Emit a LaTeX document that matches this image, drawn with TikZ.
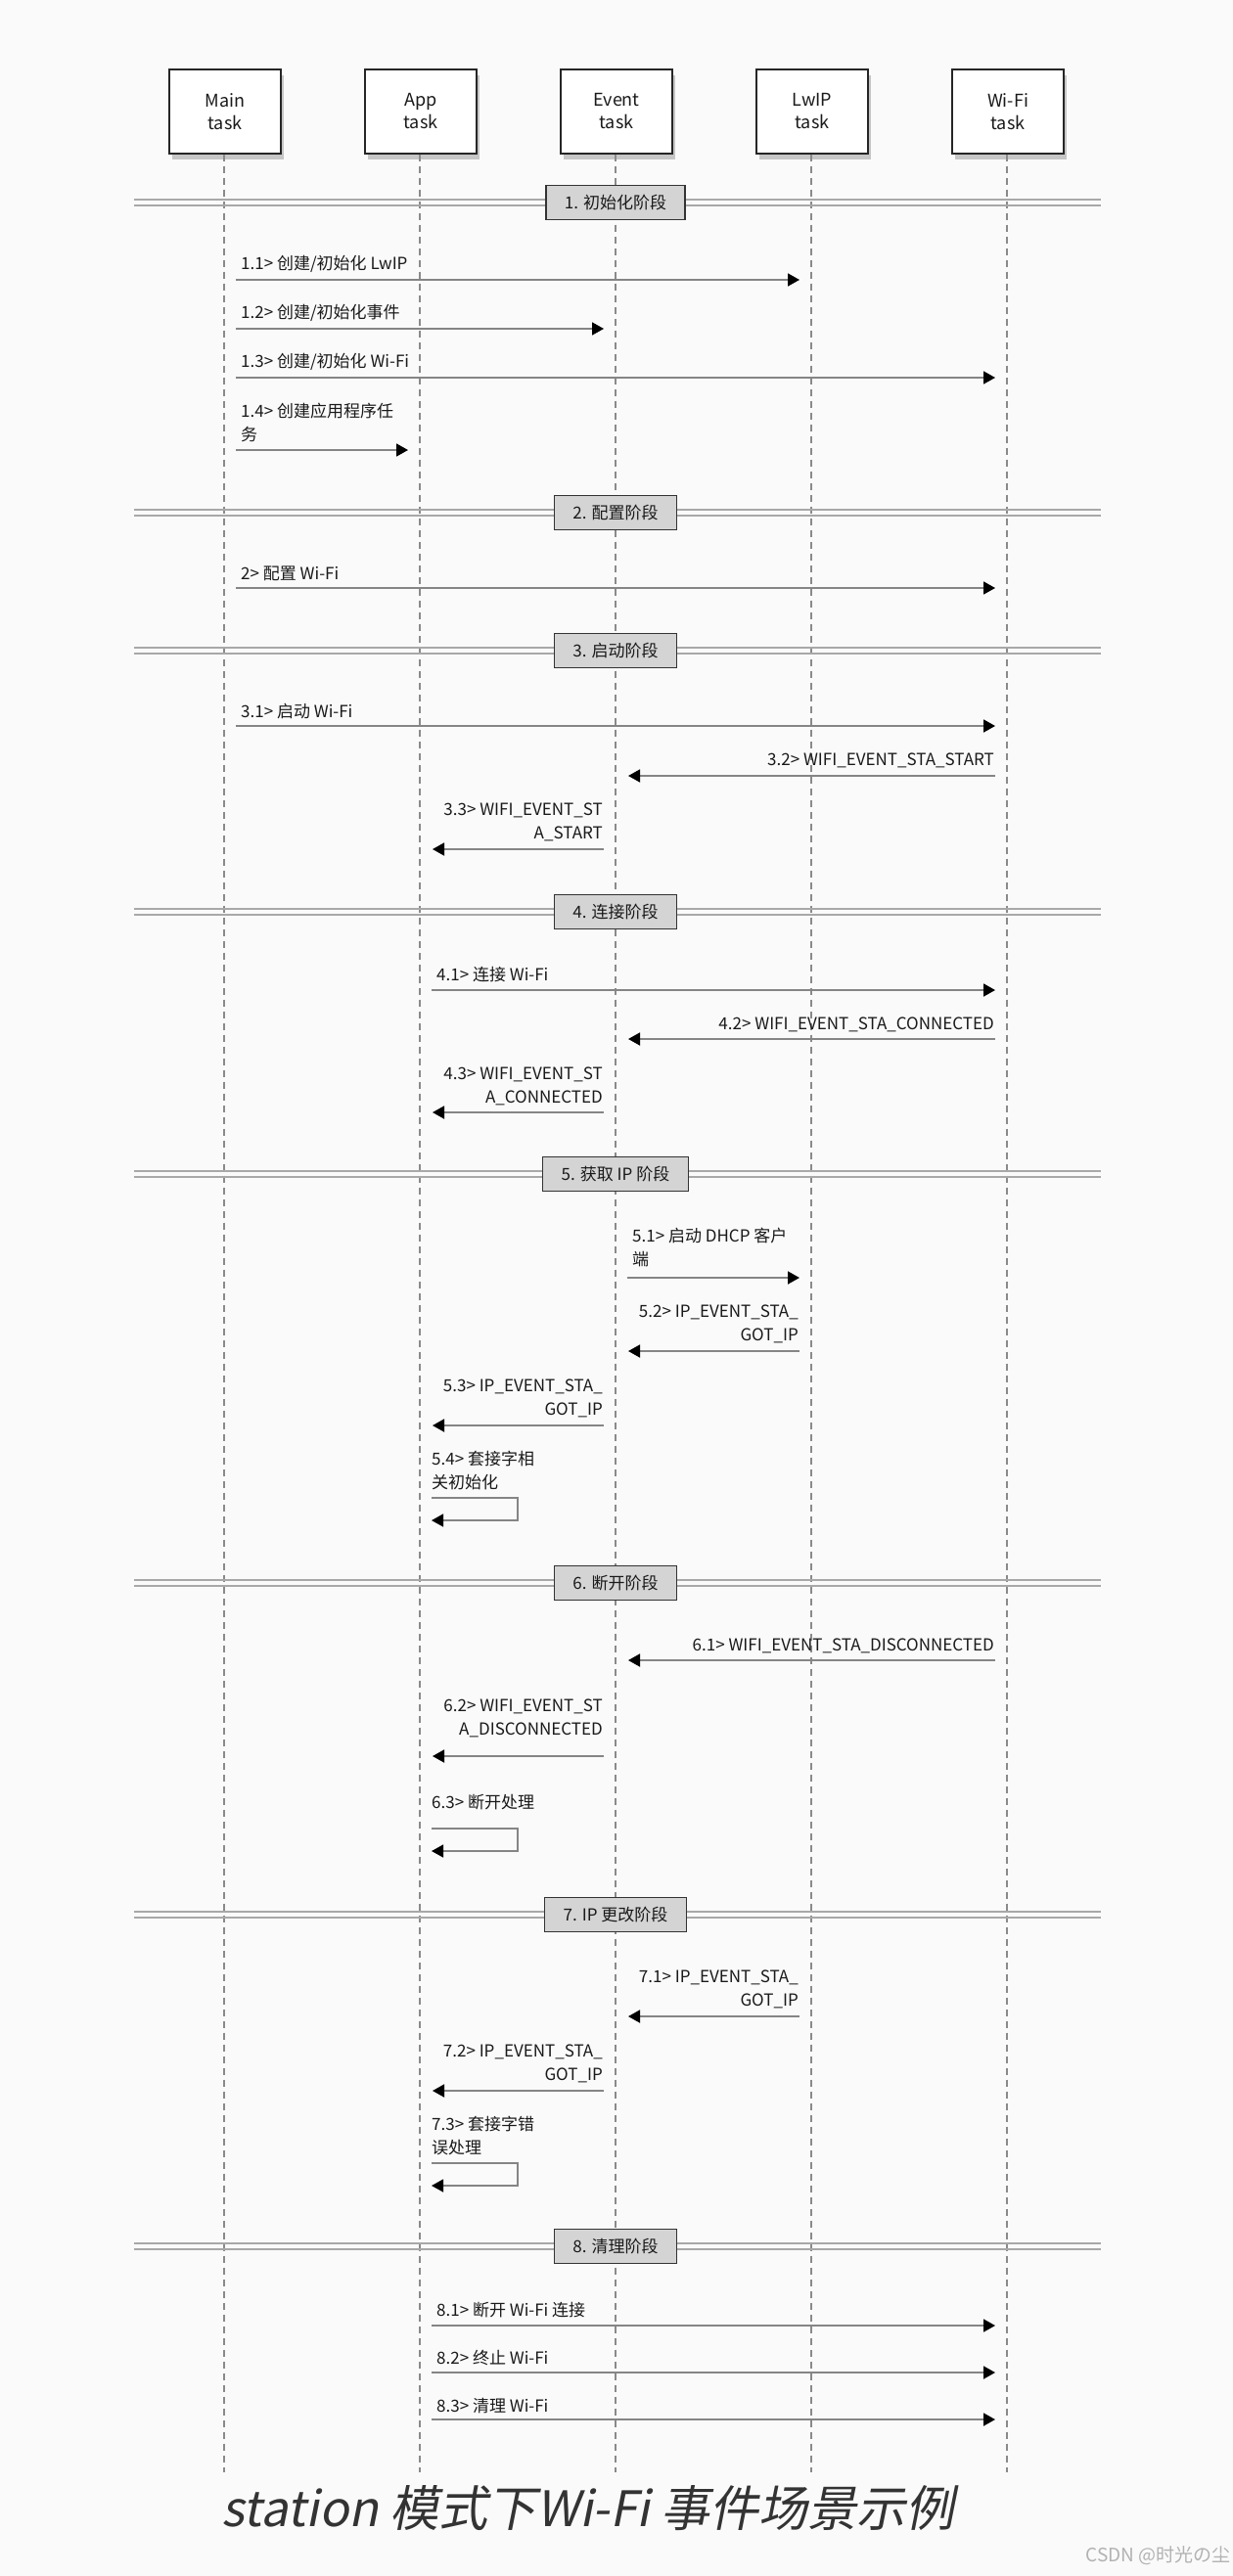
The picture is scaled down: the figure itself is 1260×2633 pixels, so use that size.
\documentclass[tikz,border=0pt]{standalone}
\usepackage{fontspec}
\setmainfont{Noto Sans CJK SC}
\newfontfamily\titlefont[FakeSlant=0.2]{Noto Sans CJK SC}
\usetikzlibrary{arrows.meta,shadows}
\definecolor{msggray}{HTML}{858585}
\definecolor{lifegray}{HTML}{8A8A8A}
\definecolor{phgray}{HTML}{A8A8A8}
\definecolor{phfill}{HTML}{D4D4D4}
\definecolor{txt}{HTML}{1A1A1A}
\tikzset{
  head/.style={draw=black!85, line width=1.4pt, fill=white, minimum width=114pt, minimum height=86pt,
    align=center, font=\fontsize{18}{23}\selectfont, text=txt, inner sep=0pt,
    drop shadow={shadow xshift=3pt, shadow yshift=-6pt, opacity=0.35, fill=black!60}},
  life/.style={draw=lifegray, line width=1.1pt, dash pattern=on 7pt off 5pt},
  phline/.style={draw=phgray, line width=1.6pt},
  phbox/.style={draw=black!80, line width=1.4pt, fill=phfill, minimum height=35pt, inner xsep=19pt,
    font=\fontsize{17}{20}\selectfont, text=txt},
  msg/.style={draw=msggray, line width=1.8pt, -{Triangle[length=12pt,width=13pt,color=black]}},
  selfln/.style={draw=msggray, line width=1.3pt, -{Triangle[length=12pt,width=13pt,color=black]}},
  lbl/.style={font=\fontsize{17}{24}\selectfont, text=txt, inner sep=0pt, text depth=0pt}
}
% right-going message: id, startx, endx, arrowy, label baseline, text
\newcommand\msgR[6]{%
  \coordinate (#1s) at (#2,#4); \coordinate (#1e) at (#3,#4);
  \draw[msg] (#1s) -- (#1e);
  \node[lbl, anchor=south west, align=left] (#1l) at (#2+5,#5) {#6};}
% left-going message
\newcommand\msgL[6]{%
  \coordinate (#1s) at (#2,#4); \coordinate (#1e) at (#3,#4);
  \draw[msg] (#1s) -- (#1e);
  \node[lbl, anchor=south east, align=right] (#1l) at (#2-1,#5) {#6};}
% self message on App: id, top y, bottom y, label baseline, text
\newcommand\msgSelf[5]{%
  \coordinate (#1a) at (441,#2); \coordinate (#1b) at (529,#2);
  \coordinate (#1c) at (529,#3); \coordinate (#1d) at (441,#3);
  \draw[selfln] (#1a) -- (#1b) -- (#1c) -- (#1d);
  \node[lbl, anchor=south west, align=left] (#1l) at (441,#4) {#5};}
% phase divider: id, y, text
\newcommand\phase[3]{%
  \coordinate (#1L) at (137,#2); \coordinate (#1R) at (1125,#2);
  \draw[phline] ([yshift=3pt]#1L) -- ([yshift=3pt]#1R);
  \draw[phline] ([yshift=-3pt]#1L) -- ([yshift=-3pt]#1R);
  \node[phbox] (#1box) at (629,#2) {#3};}
\begin{document}
\begin{tikzpicture}[x=1pt,y=-1pt]
\fill[white!98!black] (0,0) rectangle (1260,2633);
\useasboundingbox (0,0) rectangle (1260,2633);
% heads
\node[head] (main)  at (230,114) {Main\\task};
\node[head] (app)   at (430,114) {App\\task};
\node[head] (event) at (630,114) {Event\\task};
\node[head] (lwip)  at (830,114) {LwIP\\task};
\node[head] (wifi)  at (1030,114) {Wi-Fi\\task};
% lifelines
\coordinate (mainE) at (229,2527);
\coordinate (appE) at (429,2527);
\coordinate (eventE) at (629,2527);
\coordinate (lwipE) at (829,2527);
\coordinate (wifiE) at (1029,2527);
\draw[life] (main.south -| mainE) -- (mainE);
\draw[life] (app.south -| appE) -- (appE);
\draw[life] (event.south -| eventE) -- (eventE);
\draw[life] (lwip.south -| lwipE) -- (lwipE);
\draw[life] (wifi.south -| wifiE) -- (wifiE);
% phase 1
\phase{p1}{207}{1. 初始化阶段}
\msgR{m11}{241}{817}{286}{276}{1.1> 创建/初始化 LwIP}
\msgR{m12}{241}{617}{336}{326}{1.2> 创建/初始化事件}
\msgR{m13}{241}{1017}{386}{376}{1.3> 创建/初始化 Wi-Fi}
\msgR{m14}{241}{417}{460}{451}{1.4> 创建应用程序任\\务}
% phase 2
\phase{p2}{524}{2. 配置阶段}
\msgR{m2}{241}{1017}{601}{593}{2> 配置 Wi-Fi}
% phase 3
\phase{p3}{665}{3. 启动阶段}
\msgR{m31}{241}{1017}{742}{734}{3.1> 启动 Wi-Fi}
\msgL{m32}{1017}{642}{793}{783}{3.2> WIFI\_EVENT\_STA\_START}
\msgL{m33}{617}{442}{868}{858}{3.3> WIFI\_EVENT\_ST\\A\_START}
% phase 4
\phase{p4}{932}{4. 连接阶段}
\msgR{m41}{441}{1017}{1012}{1003}{4.1> 连接 Wi-Fi}
\msgL{m42}{1017}{642}{1062}{1053}{4.2> WIFI\_EVENT\_STA\_CONNECTED}
\msgL{m43}{617}{442}{1137}{1128}{4.3> WIFI\_EVENT\_ST\\A\_CONNECTED}
% phase 5
\phase{p5}{1200}{5. 获取 IP 阶段}
\msgR{m51}{641}{817}{1306}{1294}{5.1> 启动 DHCP 客户\\端}
\msgL{m52}{817}{642}{1381}{1371}{5.2> IP\_EVENT\_STA\_\\GOT\_IP}
\msgL{m53}{617}{442}{1457}{1447}{5.3> IP\_EVENT\_STA\_\\GOT\_IP}
\msgSelf{m54}{1531}{1554}{1522}{5.4> 套接字相\\关初始化}
% phase 6
\phase{p6}{1618}{6. 断开阶段}
\msgL{m61}{1017}{642}{1697}{1688}{6.1> WIFI\_EVENT\_STA\_DISCONNECTED}
\msgL{m62}{617}{442}{1795}{1774}{6.2> WIFI\_EVENT\_ST\\A\_DISCONNECTED}
\msgSelf{m63}{1869}{1892}{1849}{6.3> 断开处理}
% phase 7
\phase{p7}{1957}{7. IP 更改阶段}
\msgL{m71}{817}{642}{2061}{2051}{7.1> IP\_EVENT\_STA\_\\GOT\_IP}
\msgL{m72}{617}{442}{2137}{2127}{7.2> IP\_EVENT\_STA\_\\GOT\_IP}
\msgSelf{m73}{2211}{2234}{2202}{7.3> 套接字错\\误处理}
% phase 8
\phase{p8}{2296}{8. 清理阶段}
\msgR{m81}{441}{1017}{2377}{2368}{8.1> 断开 Wi-Fi 连接}
\msgR{m82}{441}{1017}{2425}{2417}{8.2> 终止 Wi-Fi}
\msgR{m83}{441}{1017}{2473}{2466}{8.3> 清理 Wi-Fi}
% caption
\node[font=\titlefont\fontsize{50}{58}\selectfont, text=black!80, inner sep=0pt] (title) at (601,2564) {station 模式下Wi-Fi 事件场景示例};
\node[font=\fontsize{19}{22}\selectfont, text=black!30, anchor=east, inner sep=0pt] (wm) at (1258,2612) {CSDN @时光の尘};
\end{tikzpicture}
\end{document}
